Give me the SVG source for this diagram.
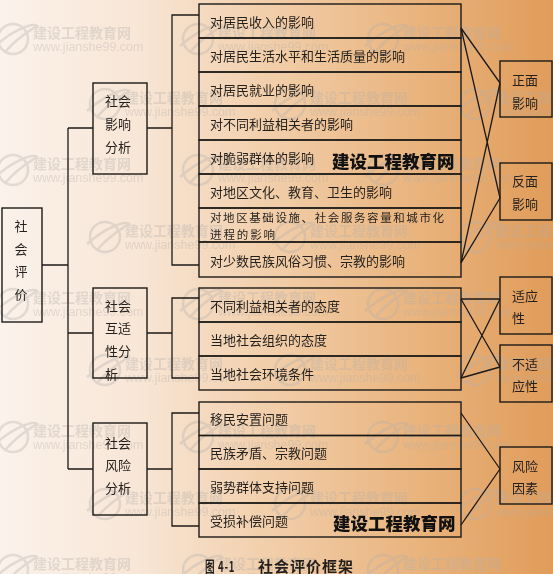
<svg xmlns="http://www.w3.org/2000/svg" width="553" height="574" viewBox="0 0 553 574">
<defs>
<linearGradient id="bg" x1="0" y1="0" x2="1" y2="0">
<stop offset="0" stop-color="#fbf2eb"/>
<stop offset="0.25" stop-color="#f8e6d6"/>
<stop offset="0.5" stop-color="#f1cda8"/>
<stop offset="0.75" stop-color="#e9b47e"/>
<stop offset="1" stop-color="#e09c5a"/>
</linearGradient>
<g id="wm">
<circle cx="-20" cy="7" r="15" fill="none" stroke="#b4b0ac" stroke-width="2.5"/>
<path d="M-38,14 C-20,-2 0,-10 4,-6 C-2,-2 -14,4 -28,20" fill="none" stroke="#b4b0ac" stroke-width="2.5"/>
<text x="0" y="0" class="wmt">建设工程教育网</text>
<text x="0" y="15" class="wmu">www.jianshe99.com</text>
</g>
</defs>
<style>
.box{fill:none;stroke:#1c1a18;stroke-width:1.4}
.ln{fill:none;stroke:#1c1a18;stroke-width:1.3}
.t{font-family:"Noto Sans CJK SC","Noto Sans CJK JP",sans-serif;font-size:13px;fill:#231f1c;dominant-baseline:central}
.t2{font-family:"Noto Sans CJK SC","Noto Sans CJK JP",sans-serif;font-size:11.5px;fill:#231f1c;dominant-baseline:central}
.bw{font-family:"Noto Sans CJK SC",sans-serif;font-size:17.5px;font-weight:900;fill:#111;dominant-baseline:central}
.cap{font-family:"Noto Sans CJK SC",sans-serif;font-size:15px;font-weight:bold;fill:#231f1c;dominant-baseline:central;letter-spacing:1px}
.wmt{font-family:"Noto Sans CJK SC",sans-serif;font-size:14px;font-weight:bold;fill:#b4b0ac;dominant-baseline:central}
.wmu{font-family:"Liberation Sans",sans-serif;font-size:12.5px;fill:#b4b0ac;dominant-baseline:central}
</style>
<rect x="0" y="0" width="553" height="574" fill="url(#bg)"/>

<g id="watermarks" opacity="0.35">
<use href="#wm" x="33" y="32"/><use href="#wm" x="218" y="32"/><use href="#wm" x="403" y="32"/>
<use href="#wm" x="125" y="97"/><use href="#wm" x="310" y="97"/><use href="#wm" x="495" y="97"/>
<use href="#wm" x="33" y="163"/><use href="#wm" x="218" y="163"/><use href="#wm" x="403" y="163"/>
<use href="#wm" x="125" y="230"/><use href="#wm" x="310" y="230"/><use href="#wm" x="495" y="230"/>
<use href="#wm" x="33" y="297"/><use href="#wm" x="218" y="297"/><use href="#wm" x="403" y="297"/>
<use href="#wm" x="125" y="363"/><use href="#wm" x="310" y="363"/><use href="#wm" x="495" y="363"/>
<use href="#wm" x="33" y="430"/><use href="#wm" x="218" y="430"/><use href="#wm" x="403" y="430"/>
<use href="#wm" x="125" y="497"/><use href="#wm" x="310" y="497"/><use href="#wm" x="495" y="497"/>
<use href="#wm" x="33" y="563"/><use href="#wm" x="218" y="563"/><use href="#wm" x="403" y="563"/>
</g>

<g id="connectors">
<path class="ln" d="M42,265 H68 M68,128 V469 M68,128 H93 M68,333 H93 M68,469 H93"/>
<path class="ln" d="M147,128 H172 M199,15 H172 V265 H199"/>
<path class="ln" d="M147,333 H172 M199,298 H172 V378 H199"/>
<path class="ln" d="M147,469 H172 M199,413 H172 V526 H199"/>
<path class="ln" d="M461,28 L500,83 M461,28 L500,198 M461,263 L500,83 M461,263 L500,198"/>
<path class="ln" d="M461,299 H500 M461,299 L500,367 M461,378 L500,299 M461,378 L500,367"/>
<path class="ln" d="M461,413 L500,469 M461,525 L500,469"/>
</g>

<g id="root"><rect class="box" x="2" y="208" width="40" height="114"/>
<text class="t" x="21" y="225" text-anchor="middle">社</text>
<text class="t" x="21" y="248" text-anchor="middle">会</text>
<text class="t" x="21" y="270" text-anchor="middle">评</text>
<text class="t" x="21" y="293" text-anchor="middle">价</text></g>

<g id="impact"><rect class="box" x="93" y="83" width="54" height="91"/>
<text class="t" x="105" y="100">社会</text><text class="t" x="105" y="123">影响</text><text class="t" x="105" y="146">分析</text></g>
<g id="adapt"><rect class="box" x="93" y="288" width="54" height="90"/>
<text class="t" x="105" y="305">社会</text><text class="t" x="105" y="327">互适</text><text class="t" x="105" y="350">性分</text><text class="t" x="105" y="373">析</text></g>
<g id="risk"><rect class="box" x="93" y="423" width="54" height="92"/>
<text class="t" x="105" y="442">社会</text><text class="t" x="105" y="464">风险</text><text class="t" x="105" y="487">分析</text></g>

<g id="i1"><rect class="box" x="199" y="4" width="262" height="34"/><text class="t" x="210" y="21">对居民收入的影响</text></g>
<g id="i2"><rect class="box" x="199" y="38" width="262" height="34"/><text class="t" x="210" y="55">对居民生活水平和生活质量的影响</text></g>
<g id="i3"><rect class="box" x="199" y="72" width="262" height="34"/><text class="t" x="210" y="89">对居民就业的影响</text></g>
<g id="i4"><rect class="box" x="199" y="106" width="262" height="34"/><text class="t" x="210" y="123">对不同利益相关者的影响</text></g>
<g id="i5"><rect class="box" x="199" y="140" width="262" height="34"/><text class="t" x="210" y="157">对脆弱群体的影响</text></g>
<g id="i6"><rect class="box" x="199" y="174" width="262" height="34"/><text class="t" x="210" y="191">对地区文化、教育、卫生的影响</text></g>
<g id="i7"><rect class="box" x="199" y="208" width="262" height="34"/><text class="t2" x="210" y="216.5" textLength="234" lengthAdjust="spacing">对地区基础设施、社会服务容量和城市化</text><text class="t2" x="210" y="234" textLength="65" lengthAdjust="spacing">进程的影响</text></g>
<g id="i8"><rect class="box" x="199" y="242" width="262" height="35"/><text class="t" x="210" y="260">对少数民族风俗习惯、宗教的影响</text></g>

<g id="a1"><rect class="box" x="199" y="288" width="262" height="34"/><text class="t" x="210" y="305">不同利益相关者的态度</text></g>
<g id="a2"><rect class="box" x="199" y="322" width="262" height="34"/><text class="t" x="210" y="339">当地社会组织的态度</text></g>
<g id="a3"><rect class="box" x="199" y="356" width="262" height="34"/><text class="t" x="210" y="373">当地社会环境条件</text></g>

<g id="r1"><rect class="box" x="199" y="402" width="262" height="33.5"/><text class="t" x="210" y="418">移民安置问题</text></g>
<g id="r2"><rect class="box" x="199" y="435.5" width="262" height="33.5"/><text class="t" x="210" y="452">民族矛盾、宗教问题</text></g>
<g id="r3"><rect class="box" x="199" y="469" width="262" height="34"/><text class="t" x="210" y="486">弱势群体支持问题</text></g>
<g id="r4"><rect class="box" x="199" y="503" width="262" height="34"/><text class="t" x="210" y="520">受损补偿问题</text></g>

<g id="positive"><rect class="box" x="500" y="61" width="52" height="56"/><text class="t" x="512" y="79">正面</text><text class="t" x="512" y="102">影响</text></g>
<g id="negative"><rect class="box" x="500" y="163" width="52" height="57"/><text class="t" x="512" y="180">反面</text><text class="t" x="512" y="203">影响</text></g>
<g id="fit"><rect class="box" x="500" y="277" width="52" height="57"/><text class="t" x="512" y="295">适应</text><text class="t" x="512" y="317">性</text></g>
<g id="unfit"><rect class="box" x="500" y="345" width="52" height="57"/><text class="t" x="512" y="363">不适</text><text class="t" x="512" y="385">应性</text></g>
<g id="riskf"><rect class="box" x="500" y="447" width="52" height="57"/><text class="t" x="512" y="465">风险</text><text class="t" x="512" y="487">因素</text></g>

<text class="bw" x="332" y="160">建设工程教育网</text>
<text class="bw" x="333" y="522">建设工程教育网</text>

<text class="cap" x="205" y="565" textLength="30" lengthAdjust="spacingAndGlyphs">图 4-1</text>
<text class="cap" x="258" y="565">社会评价框架</text>
</svg>
